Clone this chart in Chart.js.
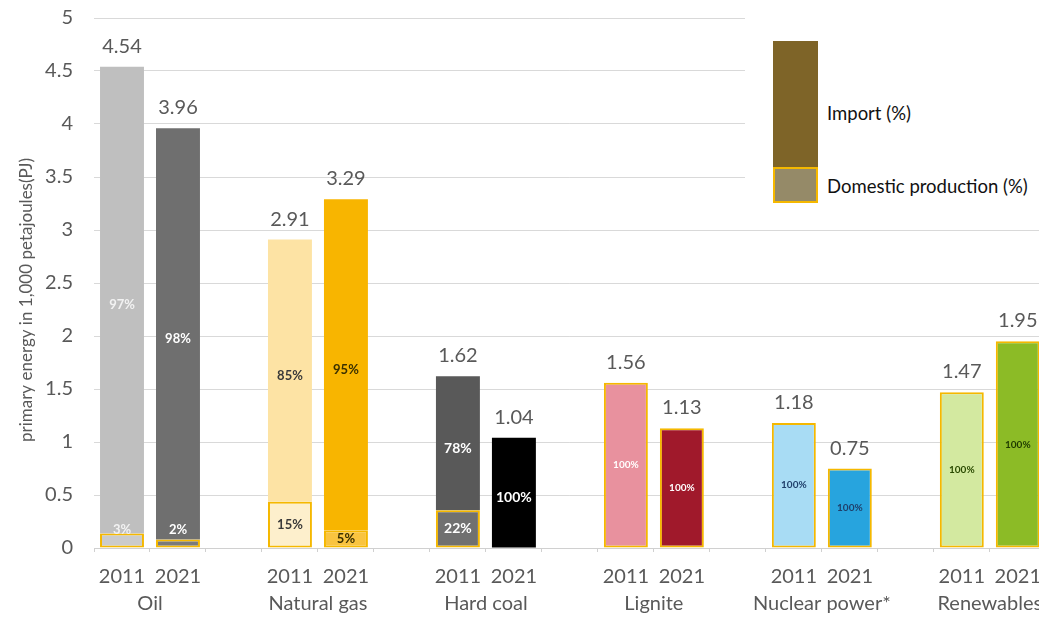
<!DOCTYPE html>
<html>
<head>
<meta charset="utf-8">
<script src="https://cdn.jsdelivr.net/npm/chart.js@4.4.1/dist/chart.umd.min.js"></script>
<style>
body { margin: 0; overflow: hidden; background: #fff; font-family: Lato, sans-serif; }
#wrap { position: relative; width: 1054px; height: 617px; }
#legend { position: absolute; left: 745px; top: 0; width: 309px; height: 215px; background: #fff; }
.sw { position: absolute; left: 28px; width: 45px; box-sizing: border-box; }
.lt { position: absolute; left: 82px; height: 24px; line-height: 24px; font-size: 18.5px; color: #111; white-space: nowrap; }
</style>
</head>
<body>
<div id="wrap">
  <canvas id="chart"></canvas>
  <div id="legend">
    <div class="sw" style="top:41px;height:127px;background:#7e6428;"></div>
    <div class="sw" style="top:167px;height:36px;background:#958a68;border:2px solid #f5b800;"></div>
    <div class="lt" style="top:101px;">Import (%)</div>
    <div class="lt" style="top:174px;">Domestic production (%)</div>
  </div>
</div>
<script>
// dados do grafico
var groups = ['Oil', 'Natural gas', 'Hard coal', 'Lignite', 'Nuclear power*', 'Renewables'];
var years = ['2011', '2021'];
var totals = [4.54, 3.96, 2.91, 3.29, 1.62, 1.04, 1.56, 1.13, 1.18, 0.75, 1.47, 1.95];
var importPct = [97, 98, 85, 95, 78, 100, 0, 0, 0, 0, 0, 0];
var domesticPct = [3, 2, 15, 5, 22, 0, 100, 100, 100, 100, 100, 100];
var yTicks = [0, 0.5, 1, 1.5, 2, 2.5, 3, 3.5, 4, 4.5, 5];
var yTitle = 'primary energy in 1,000 petajoules(PJ)';

// cores
var importColors = ['#bfbfbf', '#6f6f6f', '#fde3a4', '#f8b500', '#595959', '#000000',
    '#e8919e', '#a0192b', '#a8dcf4', '#27a4de', '#d3e9a0', '#8cbb26'];
var domesticColors = ['#cbcbcb', '#7a7a7a', '#fdefcc', '#f9c440', '#707070', '#000000',
    '#e8919e', '#a0192b', '#a8dcf4', '#27a4de', '#d3e9a0', '#8cbb26'];
var pctColors = ['#f2f2f2', '#ffffff', '#3a3a3a', '#3a3000', '#ffffff', '#ffffff',
    '#ffffff', '#ffffff', '#1f3f6a', '#1f3f6a', '#2a4a00', '#1e3a00'];
var pctSizes = [13, 13, 13, 13, 14, 14, 10, 10, 10, 10, 10, 10];

// monta as categorias com um espaco vazio entre os grupos
var labels = [], slotIdx = [];
groups.forEach(function(g, gi) {
    years.forEach(function(y, yi) {
        labels.push(y);
        slotIdx.push(gi * 2 + yi);
    });
    if (gi < groups.length - 1) {
        labels.push('');
        slotIdx.push(-1);
    }
});

function pick(arr, fn) {
    return slotIdx.map(function(k) { return k < 0 ? null : fn(arr, k); });
}

var domData = pick(totals, function(a, k) { return domesticPct[k] ? a[k] * domesticPct[k] / 100 : null; });
var impData = pick(totals, function(a, k) { return importPct[k] ? a[k] * importPct[k] / 100 : null; });
var domBg = pick(domesticColors, function(a, k) { return a[k]; });
var impBg = pick(importColors, function(a, k) { return a[k]; });

var labelPlugin = {
    id: 'barLabels',
    afterDatasetsDraw: function(chart) {
        var ctx = chart.ctx;
        var yScale = chart.scales.y;
        var dom = chart.getDatasetMeta(0).data;
        var imp = chart.getDatasetMeta(1).data;
        ctx.save();
        ctx.textAlign = 'center';
        slotIdx.forEach(function(k, i) {
            if (k < 0) return;
            var x = dom[i].x;
            // total acima da barra
            ctx.font = '20px Lato';
            ctx.fillStyle = '#595959';
            ctx.textBaseline = 'alphabetic';
            ctx.fillText(totals[k].toFixed(2), x, yScale.getPixelForValue(totals[k]) - 14);
            ctx.font = 'bold ' + pctSizes[k] + 'px Lato';
            ctx.fillStyle = pctColors[k];
            ctx.textBaseline = 'middle';
            if (importPct[k]) {
                var e = imp[i];
                ctx.fillText(importPct[k] + '%', x, (e.y + e.base) / 2 + 5);
            }
            if (domesticPct[k]) {
                var d = dom[i];
                var cy = (d.y + d.base) / 2;
                if (d.base - d.y < 16) cy = d.base - 18;
                ctx.fillText(domesticPct[k] + '%', x, cy);
            }
        });
        // titulo do eixo y
        ctx.translate(27, 300);
        ctx.rotate(-Math.PI / 2);
        ctx.font = '17px Lato';
        ctx.fillStyle = '#595959';
        ctx.fillText(yTitle, 0, 0);
        ctx.restore();
    }
};

Chart.defaults.font.family = 'Lato';
Chart.defaults.color = '#595959';

var ctx = document.getElementById('chart').getContext('2d');
var myChart = new Chart(ctx, {
    type: 'bar',
    data: {
        labels: labels,
        datasets: [{
            label: 'Domestic production (%)',
            data: domData,
            backgroundColor: domBg,
            borderColor: '#f5b800',
            borderWidth: 2,
            borderSkipped: false
        }, {
            label: 'Import (%)',
            data: impData,
            backgroundColor: impBg,
            borderWidth: 0
        }]
    },
    options: {
        responsive: true,
        maintainAspectRatio: false,
        animation: false,
        categoryPercentage: 1,
        barPercentage: 0.785,
        layout: { padding: { top: 18, right: 0, left: 0, bottom: 0 } },
        plugins: { legend: { display: false }, tooltip: { enabled: false } },
        scales: {
            x: {
                stacked: true,
                weight: 0,
                grid: { display: true, drawOnChartArea: false, drawTicks: true, tickLength: 4, color: '#d0d0d0', offset: true },
                border: { display: true, color: '#d0d0d0' },
                ticks: { font: { size: 20 }, color: '#595959', padding: 13, autoSkip: false, maxRotation: 0 },
                afterFit: function(s) { s.height = 42; }
            },
            groupAxis: {
                type: 'linear',
                position: 'bottom',
                weight: 1,
                offset: false,
                min: -0.5,
                max: labels.length - 0.5,
                grid: { display: false, drawTicks: false },
                border: { display: false },
                ticks: {
                    font: { size: 20 }, color: '#595959', padding: 2, autoSkip: false, maxRotation: 0,
                    callback: function(v, i) { return groups[i]; }
                },
                afterBuildTicks: function(s) {
                    s.ticks = groups.map(function(g, gi) { return { value: gi * 3 + 0.5 }; });
                },
                afterFit: function(s) { s.height = 27; }
            },
            y: {
                stacked: true,
                min: 0,
                max: 5,
                afterBuildTicks: function(s) {
                    s.ticks = yTicks.map(function(v) { return { value: v }; });
                },
                grid: { color: '#d9d9d9', lineWidth: 1, drawTicks: true, tickLength: 21, tickColor: 'rgba(0,0,0,0)' },
                border: { display: false },
                ticks: {
                    font: { size: 20 }, color: '#595959', padding: 0,
                    callback: function(v) { return String(v); }
                },
                afterFit: function(s) { s.width = 94; }
            }
        }
    },
    plugins: [labelPlugin]
});
</script>
</body>
</html>
